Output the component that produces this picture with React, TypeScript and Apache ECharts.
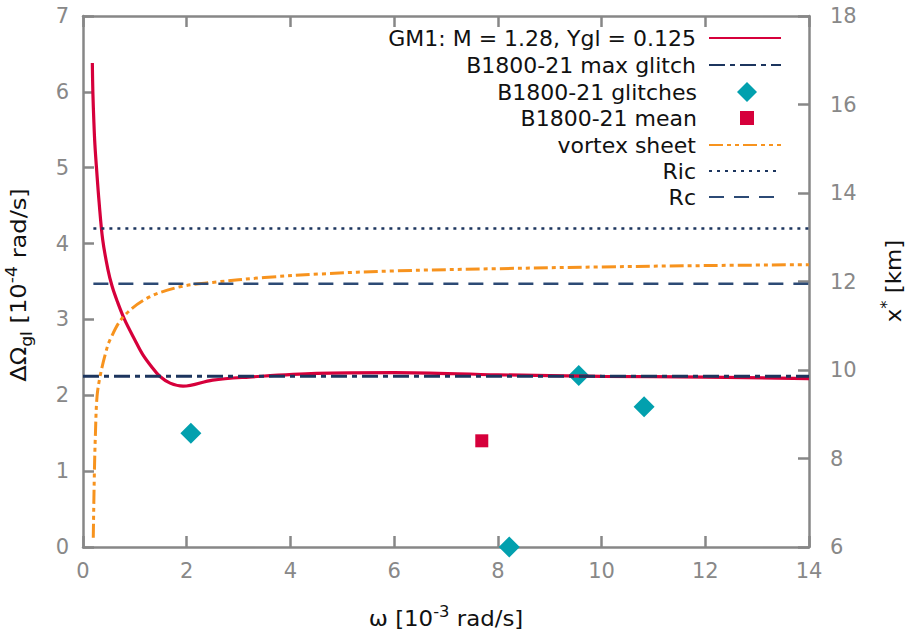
import React, { useEffect, useRef } from "react";
import * as echarts from "echarts";

// GM1 model curve: omega [1e-3 rad/s] vs Delta Omega_gl [1e-4 rad/s]
const gmOmega = [0.18, 0.19, 0.21, 0.23, 0.26, 0.31, 0.38, 0.48, 0.56, 0.66, 0.8, 1.0, 1.15, 1.33, 1.48, 1.68, 1.93, 2.5, 3.2, 4.5, 6, 8, 10, 12, 14];
const gmDelta = [6.38, 6.0, 5.6, 5.3, 5.0, 4.55, 4.05, 3.66, 3.44, 3.24, 3.0, 2.73, 2.54, 2.37, 2.25, 2.16, 2.12, 2.2, 2.24, 2.29, 2.3, 2.27, 2.25, 2.24, 2.22];

// B1800-21 max glitch
const maxGlitchOmega = [0, 14];
const maxGlitchDelta = 2.25;

// B1800-21 glitches
const glitchOmega = [2.08, 8.22, 9.56, 10.82];
const glitchDelta = [1.5, 0.0, 2.26, 1.85];

// B1800-21 mean
const meanOmega = [7.69];
const meanDelta = [1.4];

// vortex sheet: omega vs x* [km]
const vortexOmega = [0.198, 0.22, 0.24, 0.27, 0.33, 0.44, 0.52, 0.77, 1.23, 1.87, 2.5, 3.5, 4.57, 6, 8, 10, 12, 14];
const vortexKm = [6.21, 7.71, 8.57, 9.39, 9.86, 10.4, 10.68, 11.19, 11.62, 11.88, 11.98, 12.09, 12.17, 12.24, 12.29, 12.33, 12.36, 12.38];

// Ric and Rc [km]
const radiusOmega = [0.2, 14];
const ricKm = 13.2;
const rcKm = 11.95;

const legendNames = [
  "GM1: M = 1.28, Ygl = 0.125",
  "B1800-21 max glitch",
  "B1800-21 glitches",
  "B1800-21 mean",
  "vortex sheet",
  "Ric",
  "Rc",
];

const FONT = "DejaVu Sans";
const AXIS_GRAY = "#878787";
const LABEL_GRAY = "#888888";
const RED = "#d6003b";
const NAVY = "#1c355e";
const TEAL = "#02a0ae";
const ORANGE = "#f7931e";

function mkLegend(
  name: string,
  top: number,
  opts: { right?: number; itemWidth?: number; itemHeight?: number; textPad?: number; hideSymbol?: boolean } = {}
) {
  const right = opts.right ?? 130;
  const itemWidth = opts.itemWidth ?? 72;
  const itemHeight = opts.itemHeight ?? 14;
  const textPad = opts.textPad ?? 8;
  const lg: any = {
    data: [name],
    right,
    top,
    orient: "horizontal",
    align: "right",
    padding: 0,
    itemWidth,
    itemHeight,
    selectedMode: false,
    textStyle: {
      fontFamily: FONT,
      fontSize: 22,
      color: "#111",
      lineHeight: 24,
      padding: [0, textPad, 0, 0],
    },
  };
  if (opts.hideSymbol) lg.itemStyle = { opacity: 0 };
  return lg;
}

export default function App() {
  const ref = useRef<HTMLDivElement>(null);
  useEffect(() => {
    document.body.style.margin = "0";
    const chart = echarts.init(ref.current!, null, { renderer: "svg" });
    const axisCommon = {
      axisLine: { show: true, onZero: false, lineStyle: { color: AXIS_GRAY, width: 2.5 } },
      axisTick: { show: true, inside: true, length: 11, lineStyle: { color: AXIS_GRAY, width: 2.5 } },
      splitLine: { show: false },
    };
    const labelStyle = { fontFamily: FONT, fontSize: 21, color: LABEL_GRAY };
    const titleRich = {
      sub: { fontSize: 15, fontFamily: FONT, fill: "#111", verticalAlign: "bottom", lineHeight: 30 },
      sup: { fontSize: 15, fontFamily: FONT, fill: "#111", verticalAlign: "top", lineHeight: 14 },
    };
    const option = {
      animation: false,
      backgroundColor: "#fff",
      grid: { left: 83, top: 16, right: 103, bottom: 84 },
      xAxis: [
        {
          type: "value",
          min: 0,
          max: 14,
          interval: 2,
          position: "bottom",
          ...axisCommon,
          axisLabel: { ...labelStyle, margin: 13 },
        },
        {
          type: "value",
          min: 0,
          max: 14,
          interval: 2,
          position: "top",
          ...axisCommon,
          axisLabel: { show: false },
        },
      ],
      yAxis: [
        {
          type: "value",
          min: 0,
          max: 7,
          interval: 1,
          position: "left",
          ...axisCommon,
          axisLabel: { ...labelStyle, margin: 14 },
        },
        {
          type: "value",
          min: 6,
          max: 18,
          interval: 2,
          position: "right",
          ...axisCommon,
          axisLabel: { ...labelStyle, margin: 21 },
        },
      ],
      legend: [
        mkLegend(legendNames[0], 26, { hideSymbol: true }),
        mkLegend(legendNames[1], 53, { hideSymbol: true }),
        mkLegend(legendNames[2], 80, { right: 155, itemWidth: 20, itemHeight: 20, textPad: 35 }),
        mkLegend(legendNames[3], 106, { right: 158, itemWidth: 14, itemHeight: 14, textPad: 38 }),
        mkLegend(legendNames[4], 133, { hideSymbol: true }),
        mkLegend(legendNames[5], 159, { hideSymbol: true }),
        mkLegend(legendNames[6], 185, { hideSymbol: true }),
      ],
      graphic: [
        {
          type: "text",
          x: 19,
          y: 285,
          rotation: Math.PI / 2,
          scaleX: 1.15,
          style: {
            text: "ΔΩ{sub|gl} [10{sup|-4} rad/s]",
            font: `21px '${FONT}'`,
            fill: "#111",
            align: "center",
            verticalAlign: "middle",
            lineHeight: 30,
            rich: titleRich,
          },
        },
        {
          type: "text",
          x: 894,
          y: 281,
          rotation: Math.PI / 2,
          scaleX: 1.09,
          style: {
            text: "x{sup|*} [km]",
            font: `21px '${FONT}'`,
            fill: "#111",
            align: "center",
            verticalAlign: "middle",
            lineHeight: 30,
            rich: titleRich,
          },
        },
        {
          type: "text",
          x: 446,
          y: 619,
          scaleX: 1.09,
          style: {
            text: "ω [10{sup|-3} rad/s]",
            font: `21px '${FONT}'`,
            fill: "#111",
            align: "center",
            verticalAlign: "middle",
            lineHeight: 30,
            rich: titleRich,
          },
        },
      ],
      series: [
        {
          name: legendNames[0],
          type: "line",
          xAxisIndex: 0,
          yAxisIndex: 0,
          data: gmOmega.map((x, i) => [x, gmDelta[i]]),
          symbol: "none",
          smooth: 0.35,
          color: RED,
          lineStyle: { color: RED, width: 3.2 },
        },
        {
          name: legendNames[1],
          type: "line",
          xAxisIndex: 0,
          yAxisIndex: 0,
          data: maxGlitchOmega.map((x) => [x, maxGlitchDelta]),
          symbol: "none",
          color: NAVY,
          lineStyle: { color: NAVY, width: 3, type: [16, 5, 5, 5] },
        },
        {
          name: legendNames[2],
          type: "scatter",
          xAxisIndex: 0,
          yAxisIndex: 0,
          data: glitchOmega.map((x, i) => [x, glitchDelta[i]]),
          symbol: "diamond",
          symbolSize: 21,
          itemStyle: { color: TEAL, opacity: 1 },
        },
        {
          name: legendNames[3],
          type: "scatter",
          xAxisIndex: 0,
          yAxisIndex: 0,
          data: meanOmega.map((x, i) => [x, meanDelta[i]]),
          symbol: "rect",
          symbolSize: 13,
          itemStyle: { color: RED, opacity: 1 },
        },
        {
          name: legendNames[4],
          type: "line",
          xAxisIndex: 0,
          yAxisIndex: 1,
          data: vortexOmega.map((x, i) => [x, vortexKm[i]]),
          symbol: "none",
          smooth: 0.35,
          color: ORANGE,
          lineStyle: { color: ORANGE, width: 3, type: [14, 4, 4, 4, 4, 4] },
        },
        {
          name: legendNames[5],
          type: "line",
          xAxisIndex: 0,
          yAxisIndex: 1,
          data: radiusOmega.map((x) => [x, ricKm]),
          symbol: "none",
          color: NAVY,
          lineStyle: { color: NAVY, width: 2.5, type: [3, 5] },
        },
        {
          name: legendNames[6],
          type: "line",
          xAxisIndex: 0,
          yAxisIndex: 1,
          data: radiusOmega.map((x) => [x, rcKm]),
          symbol: "none",
          color: "#2c4a75",
          lineStyle: { color: "#2c4a75", width: 2.5, type: [15, 10] },
        },
      ],
    };
    chart.setOption(option as any);
    return () => chart.dispose();
  }, []);
  return (
    <div
      ref={ref}
      style={{ position: "fixed", left: 0, top: 0, width: 912, height: 631, background: "#fff" }}
    />
  );
}
